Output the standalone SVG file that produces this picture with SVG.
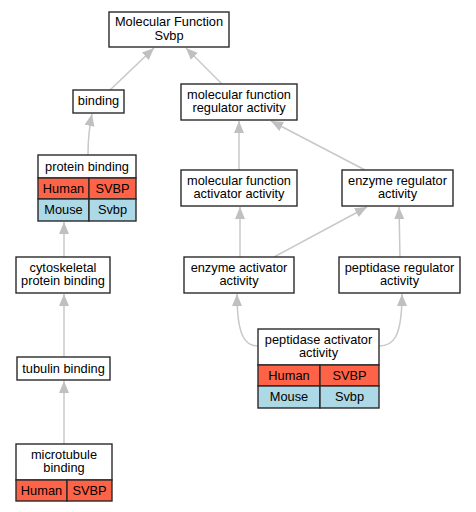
<svg xmlns="http://www.w3.org/2000/svg" width="476" height="512" viewBox="0 0 476 512">
<defs>
<marker id="ah" markerWidth="13" markerHeight="11" refX="12" refY="5" orient="auto" markerUnits="userSpaceOnUse">
<path d="M0,0 L12,5 L0,10 z" fill="#c0c0c0"/>
</marker>
</defs>
<style>
.e{fill:none;stroke:#c8c8c8;stroke-width:1.5;marker-end:url(#ah)}
.n{fill:#fff;stroke:#2a2a2a;stroke-width:1.4}
.h{fill:#ff6347;stroke:#2a2a2a;stroke-width:1.4}
.m{fill:#add8e6;stroke:#2a2a2a;stroke-width:1.4}
text{font-family:"Liberation Sans",Arial,sans-serif;font-size:12.8px;text-anchor:middle;fill:#000}
</style>
<rect width="476" height="512" fill="#fff"/>
<g id="edges">
<path class="e" d="M110,90 L154,48"/>
<path class="e" d="M222,84 L186,48"/>
<path class="e" d="M88,155 C88,140 89,128 92,114"/>
<path class="e" d="M239,170 L239,121"/>
<path class="e" d="M365,170 L271,121"/>
<path class="e" d="M64,257 L64,222"/>
<path class="e" d="M240,257 L240,207"/>
<path class="e" d="M274,257 L367,207"/>
<path class="e" d="M400,257 L399,207"/>
<path class="e" d="M64,357 L64,294"/>
<path class="e" d="M258,346 C246,346 237,338 237,294"/>
<path class="e" d="M379,346 C393,346 402,338 402,294"/>
<path class="e" d="M64,444 L64,381"/>
</g>
<g id="mf">
<rect class="n" x="109" y="12" width="120" height="35"/>
<text x="169" y="26">Molecular Function</text>
<text x="169" y="39.5">Svbp</text>
</g>
<g id="binding">
<rect class="n" x="73" y="90" width="51" height="23"/>
<text x="98.5" y="105">binding</text>
</g>
<g id="mfra">
<rect class="n" x="181" y="84" width="116" height="36"/>
<text x="239" y="98.5">molecular function</text>
<text x="239" y="112">regulator activity</text>
</g>
<g id="pb">
<rect class="n" x="38" y="155" width="98" height="23"/>
<text x="87" y="170.5">protein binding</text>
<rect class="h" x="38" y="178" width="51" height="21"/>
<rect class="h" x="89" y="178" width="47" height="21"/>
<text x="63.5" y="193">Human</text>
<text x="112.5" y="193">SVBP</text>
<rect class="m" x="38" y="199" width="51" height="22"/>
<rect class="m" x="89" y="199" width="47" height="22"/>
<text x="63.5" y="214">Mouse</text>
<text x="112.5" y="214">Svbp</text>
</g>
<g id="mfaa">
<rect class="n" x="181" y="170" width="116" height="36"/>
<text x="239" y="184.5">molecular function</text>
<text x="239" y="198">activator activity</text>
</g>
<g id="era">
<rect class="n" x="342" y="170" width="111" height="36"/>
<text x="397.5" y="184.5">enzyme regulator</text>
<text x="397.5" y="198">activity</text>
</g>
<g id="cpb">
<rect class="n" x="16" y="257" width="94" height="36"/>
<text x="63" y="271.5">cytoskeletal</text>
<text x="63" y="285">protein binding</text>
</g>
<g id="eaa">
<rect class="n" x="184" y="257" width="110" height="36"/>
<text x="239" y="271.5">enzyme activator</text>
<text x="239" y="285">activity</text>
</g>
<g id="pra">
<rect class="n" x="339" y="257" width="121" height="36"/>
<text x="399.5" y="271.5">peptidase regulator</text>
<text x="399.5" y="285">activity</text>
</g>
<g id="tb">
<rect class="n" x="17" y="357" width="93" height="23"/>
<text x="63.5" y="372.5">tubulin binding</text>
</g>
<g id="paa">
<rect class="n" x="258" y="329" width="121" height="36"/>
<text x="318.5" y="343.5">peptidase activator</text>
<text x="318.5" y="357">activity</text>
<rect class="h" x="258" y="365" width="62" height="21"/>
<rect class="h" x="320" y="365" width="59" height="21"/>
<text x="289" y="380">Human</text>
<text x="349.5" y="380">SVBP</text>
<rect class="m" x="258" y="386" width="62" height="22"/>
<rect class="m" x="320" y="386" width="59" height="22"/>
<text x="289" y="401">Mouse</text>
<text x="349.5" y="401">Svbp</text>
</g>
<g id="mb">
<rect class="n" x="16" y="444" width="96" height="36"/>
<text x="64" y="458.5">microtubule</text>
<text x="64" y="472">binding</text>
<rect class="h" x="16" y="480" width="51" height="21"/>
<rect class="h" x="67" y="480" width="45" height="21"/>
<text x="41.5" y="495">Human</text>
<text x="89.5" y="495">SVBP</text>
</g>
</svg>
